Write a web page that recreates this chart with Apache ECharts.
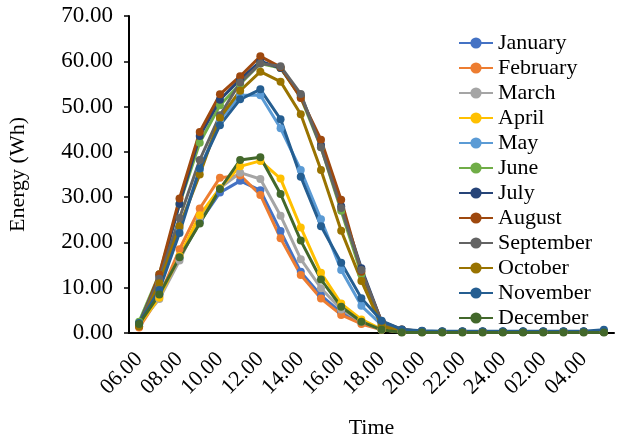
<!DOCTYPE html>
<html>
<head>
<meta charset="utf-8">
<script src="https://cdn.jsdelivr.net/npm/echarts@6/dist/echarts.min.js"></script>
<style>
html,body{margin:0;padding:0;background:#fff;}
#chart{width:617px;height:442px;}
</style>
</head>
<body>
<div id="chart"></div>
<script>
var categories = ["06.00","07.00","08.00","09.00","10.00","11.00","12.00","13.00","14.00","15.00","16.00","17.00","18.00","19.00","20.00","21.00","22.00","23.00","24.00","01.00","02.00","03.00","04.00","05.00"];
var january   = [2.0, 8.5, 16.5, 24.5, 31.0, 33.6, 31.5, 22.5, 13.5, 8.3, 4.5, 2.3, 0.8, 0.3, 0.3, 0.3, 0.3, 0.3, 0.3, 0.3, 0.3, 0.3, 0.3, 0.3];
var february  = [1.2, 8.0, 18.5, 27.5, 34.3, 34.8, 30.5, 20.9, 12.8, 7.6, 4.0, 2.0, 0.7, 0.2, 0.2, 0.2, 0.2, 0.2, 0.2, 0.2, 0.2, 0.2, 0.2, 0.2];
var march     = [2.0, 7.5, 16.0, 25.5, 32.0, 35.4, 34.0, 25.9, 16.3, 9.9, 5.2, 2.5, 0.7, 0.2, 0.2, 0.2, 0.2, 0.2, 0.2, 0.2, 0.2, 0.2, 0.2, 0.2];
var april     = [1.8, 7.8, 17.0, 26.0, 32.0, 36.8, 38.0, 34.1, 23.3, 13.3, 6.5, 3.0, 0.8, 0.2, 0.2, 0.2, 0.2, 0.2, 0.2, 0.2, 0.2, 0.2, 0.2, 0.2];
var may       = [2.0, 11.0, 23.0, 36.0, 47.0, 52.5, 52.5, 45.2, 36.0, 25.1, 13.9, 6.0, 1.8, 0.6, 0.4, 0.3, 0.3, 0.3, 0.3, 0.3, 0.3, 0.3, 0.3, 0.4];
var june      = [2.5, 13.0, 28.5, 42.0, 50.3, 55.0, 59.5, 58.5, 52.0, 41.0, 27.0, 13.0, 2.0, 0.6, 0.4, 0.3, 0.3, 0.3, 0.3, 0.3, 0.3, 0.3, 0.3, 0.3];
var july      = [2.0, 12.5, 28.5, 43.5, 51.5, 56.0, 60.0, 58.5, 52.5, 41.5, 28.0, 14.3, 2.5, 0.7, 0.4, 0.3, 0.3, 0.3, 0.3, 0.3, 0.3, 0.3, 0.3, 0.3];
var august    = [1.5, 13.0, 29.7, 44.4, 52.7, 56.7, 61.1, 58.7, 51.9, 42.7, 29.4, 13.5, 2.5, 0.8, 0.4, 0.3, 0.3, 0.3, 0.3, 0.3, 0.3, 0.3, 0.3, 0.3];
var september = [2.0, 12.0, 25.4, 38.2, 48.1, 55.3, 59.5, 58.9, 52.8, 41.0, 27.6, 13.9, 2.3, 0.7, 0.4, 0.3, 0.3, 0.3, 0.3, 0.3, 0.3, 0.3, 0.3, 0.3];
var october   = [1.5, 11.0, 23.5, 35.0, 47.5, 53.5, 57.7, 55.5, 48.3, 36.0, 22.6, 11.5, 1.5, 0.5, 0.3, 0.3, 0.3, 0.3, 0.3, 0.3, 0.3, 0.3, 0.3, 0.3];
var november  = [2.2, 9.5, 22.1, 36.3, 45.9, 51.6, 53.8, 47.2, 34.5, 23.6, 15.5, 7.7, 2.7, 0.8, 0.5, 0.4, 0.4, 0.4, 0.4, 0.4, 0.4, 0.4, 0.4, 0.7];
var december  = [2.0, 8.5, 16.7, 24.2, 31.8, 38.2, 38.8, 30.7, 20.4, 11.8, 5.8, 2.5, 0.7, 0.1, 0.1, 0.1, 0.1, 0.1, 0.1, 0.1, 0.1, 0.1, 0.1, 0.1];

var seriesNames = ["January","February","March","April","May","June","July","August","September","October","November","December"];
var seriesData = [january, february, march, april, may, june, july, august, september, october, november, december];
var colors = ["#4472C4","#ED7D31","#A5A5A5","#FFC000","#5B9BD5","#70AD47","#264478","#9E480E","#636363","#997300","#255E91","#43682B"];

var FONT = "'Liberation Serif','Times New Roman',serif";
var chart = echarts.init(document.getElementById('chart'), null, {renderer:'canvas'});
var series = seriesNames.map(function(n, i){
  return {
    name: n, type: 'line', data: seriesData[i],
    symbol: 'circle', symbolSize: 8,
    lineStyle: {width: 3, color: colors[i]},
    itemStyle: {color: colors[i]},
    emphasis: {disabled: true},
    animation: false
  };
});
chart.setOption({
  animation: false,
  color: colors,
  textStyle: {fontFamily: FONT},
  grid: {left: 129, top: 16, right: 3, bottom: 109, containLabel: false, outerBoundsMode: 'none'},
  legend: {
    orient: 'vertical', left: 453, top: 27,
    itemWidth: 34, itemHeight: 14, itemGap: 3,
    textStyle: {fontFamily: FONT, fontSize: 22, color: '#000'},
    data: seriesNames
  },
  xAxis: {
    type: 'category', data: categories, boundaryGap: true,
    name: 'Time', nameLocation: 'middle', nameGap: 84,
    nameTextStyle: {fontFamily: FONT, fontSize: 22, color: '#000'},
    axisLine: {show: true, lineStyle: {color: '#000', width: 2}},
    axisTick: {show: false},
    axisLabel: {interval: 1, rotate: 45, margin: 23, fontFamily: FONT, fontSize: 22, color: '#000'},
    splitLine: {show: false}
  },
  yAxis: {
    type: 'value', min: 0, max: 70, interval: 10,
    name: 'Energy (Wh)', nameLocation: 'middle', nameGap: 100, nameRotate: 90,
    nameTextStyle: {fontFamily: FONT, fontSize: 22, color: '#000'},
    axisLine: {show: true, lineStyle: {color: '#000', width: 2}},
    axisTick: {show: true, length: 5, inside: false, lineStyle: {color: '#000', width: 1.5}},
    axisLabel: {margin: 16, fontFamily: FONT, fontSize: 23, color: '#000', formatter: function(v){return v.toFixed(2);}},
    splitLine: {show: false}
  },
  series: series
});
</script>
</body>
</html>
